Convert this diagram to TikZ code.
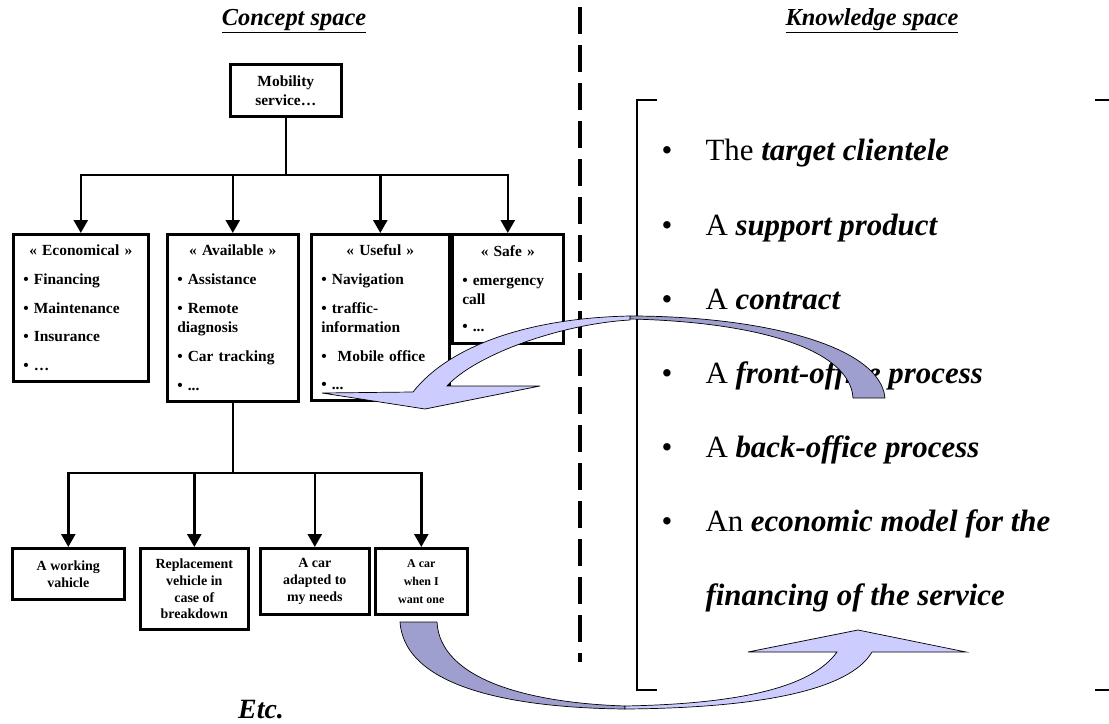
\documentclass[tikz,border=0pt]{standalone}
\usepackage{fontspec}
\setmainfont{Liberation Serif}
\usepackage{tikz}
\usetikzlibrary{arrows.meta, positioning}
\definecolor{bandfront}{HTML}{CCCCFF}
\definecolor{bandback}{HTML}{9F9FCF}

\begin{document}
\begin{tikzpicture}[
    x=1bp, y=-1bp,
    every node/.style={font=\bfseries\fontsize{15.5}{19}\selectfont},
    box/.style={draw, line width=2.6bp, anchor=north west, inner xsep=10bp, inner ysep=0pt},
    cat/.style={box, align=left},
    leaf/.style={box, align=center, inner xsep=0pt, font=\bfseries\fontsize{14}{17}\selectfont},
    header/.style={font=\bfseries\itshape\fontsize{24.5}{28}\selectfont},
    item/.style={anchor=base west, font=\fontsize{31}{36}\selectfont},
    link/.style={line width=2.6bp},
    arr/.style={link, -{Triangle[width=14bp, length=13bp]}},
    band/.style={draw=black, line width=0.7bp, fill=#1},
    band/.default=bandfront
]
\useasboundingbox (0,0) rectangle (1109,724);

% Titles of the two halves
\node[header] (conhdr) at (294,21) {\underline{Concept space}};
\node[header] (knowhdr) at (872,21) {\underline{Knowledge space}};

% Divider
\draw[line width=4.5bp, dash pattern=on 27bp off 11bp] (580,7) -- (580,662);

% Root of the concept tree
\node[box, align=center, inner xsep=0pt, minimum width=111bp, minimum height=52bp]
    (mob) at (229,63) {Mobility\\service…};

% First level: what the service should be
\node[cat, minimum width=135bp, minimum height=147bp, text width=115bp] (econ) at (12,233)
    {\hfill« Economical »\hfill\null\\[10bp] • Financing\\[10bp] • Maintenance\\[10bp] • Insurance\\[10bp] • …};
\node[cat, minimum width=131bp, minimum height=167bp, text width=111bp] (avail) at (166,233)
    {\hfill« Available »\hfill\null\\[10bp] • Assistance\\[10bp] • Remote\\diagnosis\\[10bp] • Car tracking\\[10bp] • ...};
\node[cat, minimum width=138bp, minimum height=166bp, text width=118bp] (useful) at (310,233)
    {\hfill« Useful »\hfill\null\\[10bp] • Navigation\\[10bp] • traffic-\\information\\[10bp] •\hspace{11bp}Mobile office\\[10bp] • ...};
\node[cat, minimum width=111bp, minimum height=109bp, text width=91bp] (safe) at (451,233)
    {\hfill« Safe »\hfill\null\\[10bp] • emergency\\call\\[8bp] • ...};

% Tree connectors, first level
\coordinate (level1) at (0,175);
\draw[link] (mob.south) -- (mob.south |- level1);
\foreach \n in {econ, avail, useful, safe}
    \draw[arr] (mob.south |- level1) -| (\n.north);

% Second level under "Available"
\node[leaf, minimum width=112bp, minimum height=51bp] (leafA) at (11,547) {A working\\vahicle};
\node[leaf, minimum width=108bp, minimum height=81bp] (leafB) at (139,547) {Replacement\\vehicle in\\case of\\breakdown};
\node[leaf, minimum width=109bp, minimum height=66bp] (leafC) at (259,547) {A car\\adapted to\\my needs};
\node[leaf, minimum width=92bp, minimum height=66bp, font=\bfseries\fontsize{12}{18}\selectfont]
    (leafD) at (374,547) {A car\\when I\\want one};

\coordinate (level2) at (0,473);
\draw[link] (avail.south) -- (avail.south |- level2);
\foreach \n in {leafA, leafB, leafC, leafD}
    \draw[arr] (avail.south |- level2) -| (\n.north);

\node[header, font=\bfseries\itshape\fontsize{28}{32}\selectfont] (etc) at (261,710) {Etc.};

% Knowledge space: bracket and items
\draw[line width=2.6bp] (657,100) -| (637,690) -- (657,690);
\draw[line width=2.6bp] (1095,100) -- (1109,100);
\draw[line width=2.6bp] (1095,690) -- (1109,690);

\node[item] (k1) at (658,161) {\makebox[44bp][l]{•}The \textbf{\textit{target clientele}}};
\node[item] (k2) at (658,235) {\makebox[44bp][l]{•}A \textbf{\textit{support product}}};
\node[item] (k3) at (658,309) {\makebox[44bp][l]{•}A \textbf{\textit{contract}}};
\node[item] (k4) at (658,383) {\makebox[44bp][l]{•}A \textbf{\textit{front-office process}}};
\node[item] (k5) at (658,457) {\makebox[44bp][l]{•}A \textbf{\textit{back-office process}}};
\node[item] (k6) at (658,531) {\makebox[44bp][l]{•}An \textbf{\textit{economic model for the}}};
\node[item] (k6b) at (702,605) {\textbf{\textit{financing of the service}}};

% Curved arrow from the knowledge items back to the qualities
\draw[band=bandback] (630,316) .. controls (760,316) and (880,345) .. (885,398)
    -- (853,398) .. controls (850,350) and (760,322) .. (630,319) -- cycle;
\draw[band] (630,316) .. controls (530,318) and (450,345) .. (413,392)
    -- (322,393) -- (425,409) -- (540,386) -- (447,386)
    .. controls (475,355) and (560,324) .. (630,320) -- cycle;

% Curved arrow from the needs to the knowledge items
\draw[band=bandback] (400,622) .. controls (405,690) and (520,708) .. (625,709)
    -- (625,706) .. controls (530,703) and (440,680) .. (437,622) -- cycle;
\draw[band] (625,709) .. controls (760,708) and (850,690) .. (872,652)
    -- (966,652) -- (858,630) -- (748,652) -- (837,652)
    .. controls (810,690) and (730,704) .. (625,706) -- cycle;

\end{tikzpicture}
\end{document}
